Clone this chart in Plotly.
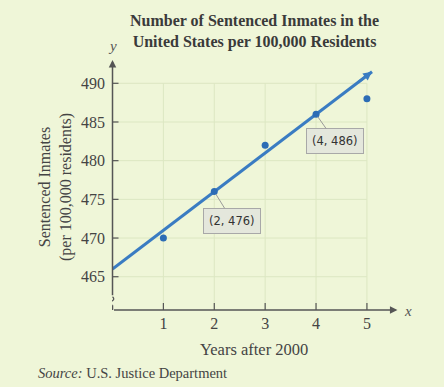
import plotly.graph_objects as go

# ---- data ----
years = [1, 2, 3, 4, 5]
inmates = [470, 476, 482, 486, 488]
x_ticks = [1, 2, 3, 4, 5]
y_ticks = [465, 470, 475, 480, 485, 490]
fit_slope = 5
fit_intercept = 466
fit_x_end = 5.1
callout_idx = [1, 3]

# ---- geometry ----
W, H = 444, 387
L, R, T, B = 112, 44, 58, 77
PW, PH = W - L - R, H - T - B
xr = [-0.01, 5.65]
yr = [460.7, 493.27]
XPX = PW / (xr[1] - xr[0])
YPX = PH / (yr[1] - yr[0])


def px(x):
    return (x - L) / PW


def py(y):
    return (H - B - y) / PH


BG = "#EFF6D8"
GRID = "#DCE7C2"
AX = "#555555"
BLUE = "#3A7CC2"
DOT = "#2C6CB5"
SERIF = "Liberation Serif"

fig = go.Figure()

fit_x = [0, fit_x_end]
fit_y = [fit_intercept + fit_slope * v for v in fit_x]
fig.add_trace(go.Scatter(x=fit_x, y=fit_y, mode="lines",
                         line=dict(color=BLUE, width=3), hoverinfo="skip"))
fig.add_trace(go.Scatter(x=years, y=inmates, mode="markers",
                         marker=dict(color=DOT, size=7), hoverinfo="skip"))

shapes = []
for v in y_ticks:
    shapes.append(dict(type="line", xref="x", yref="y", x0=0, x1=x_ticks[-1],
                       y0=v, y1=v, line=dict(color=GRID, width=1), layer="below"))
    shapes.append(dict(type="line", xref="x", yref="y", x0=0, x1=6 / XPX,
                       y0=v, y1=v, line=dict(color=AX, width=1.2)))
for v in x_ticks:
    shapes.append(dict(type="line", xref="x", yref="y", x0=v, x1=v,
                       y0=yr[0], y1=y_ticks[-1], line=dict(color=GRID, width=1), layer="below"))
    shapes.append(dict(type="line", xref="x", yref="y", x0=v, x1=v,
                       y0=yr[0], y1=yr[0] + 7 / YPX, line=dict(color=AX, width=1.2)))
# y-axis break squiggle and lower stub
shapes.append(dict(type="line", xref="x", yref="y", x0=0, x1=0, y0=yr[0], y1=461.3,
                   line=dict(color=AX, width=1.5)))
shapes.append(dict(type="path", xref="x", yref="y",
                   path="M 0,461.3 Q -0.11,461.55 -0.03,461.8 Q 0.06,462.05 0,462.4",
                   line=dict(color=AX, width=1.3)))

annotations = []
# axis arrows
annotations.append(dict(x=5.6, y=yr[0], ax=0, ay=yr[0], xref="x", yref="y",
                        axref="x", ayref="y", text="", showarrow=True,
                        arrowhead=2, arrowsize=1, arrowwidth=1.5, arrowcolor=AX))
annotations.append(dict(x=0, y=493.0, ax=0, ay=462.4, xref="x", yref="y",
                        axref="x", ayref="y", text="", showarrow=True,
                        arrowhead=2, arrowsize=1, arrowwidth=1.5, arrowcolor=AX))
# fit line arrowhead
annotations.append(dict(x=fit_x_end, y=fit_intercept + fit_slope * fit_x_end,
                        ax=fit_x_end - 0.3, ay=fit_intercept + fit_slope * (fit_x_end - 0.3),
                        xref="x", yref="y", axref="x", ayref="y", text="",
                        showarrow=True, arrowhead=2, arrowsize=0.7, arrowwidth=2.5,
                        arrowcolor=BLUE))
# callouts
offsets = {1: (18, 29), 3: (19, 27)}
for i in callout_idx:
    dx, dy = offsets[i]
    annotations.append(dict(x=years[i], y=inmates[i], xref="x", yref="y",
                            text=f"({years[i]}, {inmates[i]})", showarrow=True,
                            ax=dx, ay=dy, arrowhead=0, arrowwidth=1, arrowcolor="#9A9A9A",
                            standoff=3, bgcolor="#E4E7DC", bordercolor="#A8A8A8",
                            borderwidth=1, borderpad=5,
                            font=dict(family="DejaVu Sans", size=11.5, color="#333333")))
# texts
def txt(x, y, text, size, color="#444444", **kw):
    d = dict(x=px(x), y=py(y), xref="paper", yref="paper", text=text, showarrow=False,
             xanchor="center", yanchor="middle",
             font=dict(family=SERIF, size=size, color=color))
    d.update(kw)
    annotations.append(d)


txt(254.5, 32, "<b>Number of Sentenced Inmates in the<br>United States per 100,000 Residents</b>",
    16, "#3A3A3A")
txt(112, 46, "<i>y</i>", 15, AX)
txt(408, 311, "<i>x</i>", 15, AX)
txt(55, 187, "Sentenced Inmates<br>(per 100,000 residents)", 16, textangle=-90)
txt(254, 350, "Years after 2000", 16.5)
txt(36, 373, "<i>Source:</i> U.S. Justice Department", 14.5, xanchor="left")

fig.update_layout(
    width=W, height=H, margin=dict(l=L, r=R, t=T, b=B, pad=0),
    paper_bgcolor=BG, plot_bgcolor=BG, showlegend=False,
    shapes=shapes, annotations=annotations,
    xaxis=dict(range=xr, tickvals=x_ticks, ticks="", showgrid=False, zeroline=False,
               showline=False, ticklabelstandoff=2,
               tickfont=dict(family=SERIF, size=16, color="#444444")),
    yaxis=dict(range=yr, tickvals=y_ticks, ticks="", showgrid=False, zeroline=False,
               showline=False, ticklabelstandoff=6,
               tickfont=dict(family=SERIF, size=16, color="#444444")),
)

fig.write_html("out.html", config={"displayModeBar": False},
               post_script="document.body.style.margin='0';document.body.style.background='%s';" % BG)
